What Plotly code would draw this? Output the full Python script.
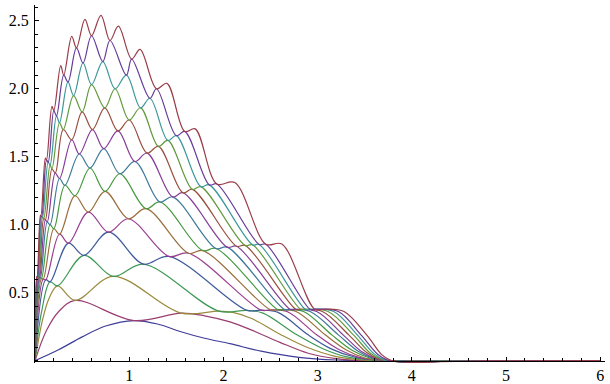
import plotly.graph_objects as go

# Peaks of each curve (x, y), left to right.
# The troughs of curve n are the peaks of curve n-1 (the curves touch there).
P1 = [(1.05, .295)]
P2 = [(.425, .443), (1.55, .35)]
P3 = [(.24, .55), (.83, .62), (1.95, .365)]
P4 = [(.16, .58), (.52, .775), (1.15, .71), (2.25, .37)]
P5 = [(.115, .595), (.355, .865), (.78, .945), (1.42, .767), (2.40, .372)]
P6 = [(.088, .60), (.26, .93), (.566, 1.093), (.99, 1.044), (1.63, .79), (2.50, .374)]
P7 = [(.07, .605), (.20, .97), (.425, 1.213), (.743, 1.245), (1.178, 1.118), (1.78, .81), (2.58, .375)]
P8 = [(.058, .61), (.16, 1.0), (.318, 1.29), (.584, 1.417), (.90, 1.375), (1.327, 1.167), (1.92, .825),
      (2.65, .376)]
P9 = [(.049, .612), (.13, 1.02), (.26, 1.34), (.47, 1.52), (.73, 1.56), (1.06, 1.465), (1.46, 1.205),
      (2.04, .835), (2.71, .377)]
P10 = [(.042, .614), (.11, 1.035), (.215, 1.38), (.39, 1.625), (.61, 1.70), (.88, 1.69), (1.19, 1.527),
       (1.57, 1.235), (2.14, .842), (2.77, .377)]
P11 = [(.036, .616), (.093, 1.045), (.18, 1.41), (.30, 1.70), (.50, 1.83), (.74, 1.86), (1.0, 1.77),
       (1.31, 1.576), (1.67, 1.26), (2.23, .848), (2.82, .378)]
P12 = [(.031, .617), (.08, 1.055), (.16, 1.44), (.26, 1.75), (.41, 1.95), (.60, 2.03), (.85, 2.0),
       (1.12, 1.86), (1.41, 1.62), (1.76, 1.28), (2.31, .852), (2.87, .378)]
P13 = [(.027, .618), (.072, 1.06), (.14, 1.46), (.228, 1.80), (.35, 2.05), (.51, 2.19), (.72, 2.2),
       (.97, 2.1), (1.22, 1.93), (1.50, 1.655), (1.85, 1.293), (2.38, .855), (2.92, .378)]
P14 = [(.023, .619), (.063, 1.065), (.122, 1.475), (.20, 1.84), (.305, 2.10), (.44, 2.30), (.60, 2.39),
       (.796, 2.355), (1.026, 2.218), (1.29, 2.0), (1.59, 1.686), (1.93, 1.30), (2.45, .857), (2.97, .379)]
P15 = [(.02, .62), (.057, 1.07), (.11, 1.49), (.18, 1.87), (.273, 2.17), (.39, 2.385), (.53, 2.51),
       (.70, 2.54), (.885, 2.46), (1.115, 2.29), (1.40, 2.04), (1.70, 1.705), (2.12, 1.31), (2.62, .858),
       (3.08, .38)]

# Extra readings on the initial rise of the lowest curves
H1 = [(0.25, .08), (0.5, .175), (0.75, .255)]
H2 = [(0.12, .22), (0.25, .36)]
H3 = [(0.08, .30), (0.15, .46)]
H4 = [(0.07, .36)]

# Readings on the final descent of each curve
T1 = [(1.3, .27), (1.54, .215), (1.8, .165), (2.07, .125), (2.4, .07), (2.8, .025), (3.2, .005), (3.6, 0), (6.0, 0)]
T2 = [(1.8, .33), (2.07, .285), (2.3, .225), (2.6, .135), (2.9, .055), (3.2, .015), (3.5, 0), (6.0, 0)]
T3 = [(2.1, .355), (2.3, .31), (2.6, .195), (2.9, .095), (3.2, .03), (3.5, .004), (3.8, 0), (6.0, 0)]
T4 = [(2.42, .35), (2.78, .19), (3.05, .09), (3.3, .03), (3.55, .006), (3.8, 0), (6.0, 0)]
T5 = [(2.58, .355), (2.9, .19), (3.15, .085), (3.4, .025), (3.65, .004), (3.85, -.002), (4.2, -.002), (4.6, 0), (6.0, 0)]
T6 = [(2.68, .36), (2.99, .19), (3.23, .08), (3.45, .022), (3.68, .002), (3.9, -.004), (4.3, -.002), (4.7, 0), (6.0, 0)]
T7 = [(2.77, .362), (3.08, .19), (3.3, .08), (3.5, .02), (3.7, 0), (3.92, -.005), (4.3, -.003), (4.7, 0), (6.0, 0)]
T8 = [(2.85, .362), (3.15, .19), (3.37, .075), (3.56, .018), (3.72, 0), (3.94, -.006), (4.3, -.003), (4.8, 0), (6.0, 0)]
T9 = [(2.92, .362), (3.22, .19), (3.43, .07), (3.6, .015), (3.74, 0), (3.95, -.007), (4.3, -.003), (4.8, 0), (6.0, 0)]
T10 = [(2.99, .362), (3.27, .19), (3.47, .065), (3.63, .012), (3.76, -.001), (3.96, -.008), (4.3, -.004), (4.8, 0), (6.0, 0)]
T11 = [(3.05, .362), (3.33, .19), (3.52, .06), (3.66, .01), (3.77, -.002), (3.97, -.009), (4.3, -.004), (4.8, 0), (6.0, 0)]
T12 = [(3.11, .362), (3.38, .19), (3.56, .055), (3.69, .008), (3.78, -.003), (3.98, -.01), (4.3, -.005), (4.8, 0), (6.0, 0)]
T13 = [(3.17, .362), (3.42, .19), (3.6, .05), (3.71, .006), (3.8, -.004), (3.99, -.011), (4.3, -.005), (4.8, 0), (6.0, 0)]
T14 = [(3.22, .362), (3.46, .19), (3.64, .045), (3.74, .004), (3.82, -.005), (4.0, -.012), (4.3, -.006), (4.8, -.001), (6.0, 0)]
T15 = [(3.28, .362), (3.52, .19), (3.68, .045), (3.77, .004), (3.85, -.006), (4.02, -.013), (4.3, -.007), (4.8, -.002), (6.0, 0)]

PEAKS = [P1, P2, P3, P4, P5, P6, P7, P8, P9, P10, P11, P12, P13, P14, P15]
HEADS = [H1, H2, H3, H4] + [[]] * 11
TAILS = [T1, T2, T3, T4, T5, T6, T7, T8, T9, T10, T11, T12, T13, T14, T15]

COLORS = ["rgb(63,61,153)", "rgb(153,61,113)", "rgb(153,139,61)", "rgb(61,153,86)", "rgb(61,90,153)",
          "rgb(153,61,144)", "rgb(153,109,61)", "rgb(67,153,61)", "rgb(61,121,153)", "rgb(132,61,153)",
          "rgb(153,78,61)", "rgb(98,153,61)", "rgb(61,151,153)", "rgb(101,61,153)", "rgb(153,61,75)"]

X_TICKS = [1, 2, 3, 4, 5, 6]
Y_TICKS = [0.5, 1.0, 1.5, 2.0, 2.5]
Y_TICK_TEXT = ["0.5", "1.0", "1.5", "2.0", "2.5"]

fig = go.Figure()
for i, peaks in enumerate(PEAKS):
    prev = PEAKS[i - 1] if i > 0 else []
    pts = [(0.0, 0.0)] + HEADS[i]
    for j, p in enumerate(peaks):
        pts.append(p)
        if j < len(prev):
            pts.append(prev[j])
    pts += TAILS[i]
    fig.add_trace(go.Scatter(
        x=[p[0] for p in pts], y=[p[1] for p in pts], mode="lines",
        line=dict(color=COLORS[i], width=1.2, shape="spline", smoothing=1.0),
        showlegend=False, hoverinfo="skip"))

YMIN, YMAX = -0.017, 2.616
font = dict(family="Liberation Serif, Times New Roman, serif", size=16, color="black")
fig.update_layout(
    width=610, height=384, margin=dict(l=35, r=5, t=5, b=21),
    paper_bgcolor="white", plot_bgcolor="white",
    xaxis=dict(range=[0, 6.05], showgrid=False, zeroline=False, showline=True, linecolor="black",
               linewidth=1, anchor="free", position=(0 - YMIN) / (YMAX - YMIN), automargin=False,
               tickmode="array", tickvals=X_TICKS, ticktext=[str(v) for v in X_TICKS],
               ticks="inside", ticklen=4, tickcolor="black", tickfont=font, ticklabelstandoff=0,
               minor=dict(tick0=0, dtick=0.2, ticks="inside", ticklen=2.5, tickcolor="black")),
    yaxis=dict(range=[YMIN, YMAX], showgrid=False, zeroline=False, showline=True, linecolor="black",
               linewidth=1, automargin=False, tickmode="array", tickvals=Y_TICKS, ticktext=Y_TICK_TEXT,
               ticks="inside", ticklen=4, tickcolor="black", tickfont=font, ticklabelstandoff=2,
               minor=dict(tick0=0, dtick=0.1, ticks="inside", ticklen=2.5, tickcolor="black")),
)
fig.write_html("out.html", config={"displayModeBar": False},
               post_script="document.body.style.margin='0px';document.body.style.overflow='hidden';")
